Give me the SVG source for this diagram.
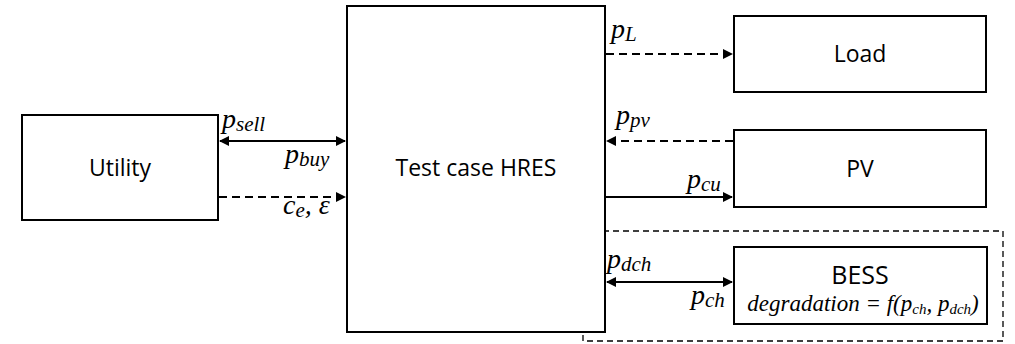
<svg xmlns="http://www.w3.org/2000/svg" width="1015" height="344" viewBox="0 0 1015 344">
<style>
.box{fill:#fff;stroke:#000;stroke-width:2}
.lbl{font-family:"Open Sans","Noto Sans","DejaVu Sans",sans-serif;font-size:23px;fill:#000;text-anchor:middle}
.m{font-family:"Liberation Serif","DejaVu Serif",serif;font-style:italic;font-size:28px;fill:#000}
.sub{font-size:21px}
.f{font-size:23px}
.fs{font-size:15px}
.ln{stroke:#000;stroke-width:2;fill:none}
.d{stroke-dasharray:8 5}
</style>
<defs>
<marker id="ah" viewBox="0 0 10 10" refX="9" refY="5" markerWidth="5" markerHeight="5" orient="auto-start-reverse">
<path d="M0,0 L10,5 L0,10 z" fill="#000"/>
</marker>
</defs>
<g id="dashed-region">
<rect x="583" y="231" width="420" height="110" fill="none" stroke="#000" stroke-width="1.3" stroke-dasharray="6 4"/>
</g>
<g id="utility">
<rect class="box" x="22" y="115" width="196" height="105"/>
<text class="lbl" x="120" y="176">Utility</text>
</g>
<g id="hres">
<rect class="box" x="347" y="6" width="258" height="326"/>
<text class="lbl" x="476" y="176">Test case HRES</text>
</g>
<g id="load">
<rect class="box" x="734" y="16" width="252" height="76"/>
<text class="lbl" x="860" y="62">Load</text>
</g>
<g id="pv">
<rect class="box" x="734" y="130" width="252" height="77"/>
<text class="lbl" x="860" y="177">PV</text>
</g>
<g id="bess">
<rect class="box" x="734" y="247" width="253" height="77"/>
<text class="lbl" x="860" y="284" style="font-size:25px">BESS</text>
<text class="m f" x="863" y="311" text-anchor="middle">degradation = f(p<tspan class="fs" dy="3">ch</tspan><tspan dy="-3">, p</tspan><tspan class="fs" dy="3">dch</tspan><tspan dy="-3">)</tspan></text>
</g>
<g id="connectors">
<line class="ln" x1="220" y1="141" x2="345" y2="141" marker-start="url(#ah)" marker-end="url(#ah)"/>
<line class="ln d" x1="219" y1="197" x2="345" y2="197" marker-end="url(#ah)"/>
<line class="ln d" x1="606" y1="54" x2="732" y2="54" marker-end="url(#ah)"/>
<line class="ln d" x1="733" y1="141" x2="607" y2="141" marker-end="url(#ah)"/>
<line class="ln" x1="606" y1="197" x2="732" y2="197" marker-end="url(#ah)"/>
<line class="ln" x1="607" y1="282" x2="732" y2="282" marker-start="url(#ah)" marker-end="url(#ah)"/>
</g>
<g id="labels">
<text class="m" x="222" y="128">p<tspan class="sub" dy="3">sell</tspan></text>
<text class="m" x="285" y="163">p<tspan class="sub" dy="3">buy</tspan></text>
<text class="m" x="283" y="214">c<tspan class="sub" dy="3">e</tspan><tspan dy="-3">, ε</tspan></text>
<text class="m" x="611" y="38">p<tspan class="sub" dy="3">L</tspan></text>
<text class="m" x="616" y="124">p<tspan class="sub" dy="3">pv</tspan></text>
<text class="m" x="687" y="188">p<tspan class="sub" dy="3">cu</tspan></text>
<text class="m" x="607" y="268">p<tspan class="sub" dy="3">dch</tspan></text>
<text class="m" x="691" y="304">p<tspan class="sub" dy="3">ch</tspan></text>
</g>
</svg>
